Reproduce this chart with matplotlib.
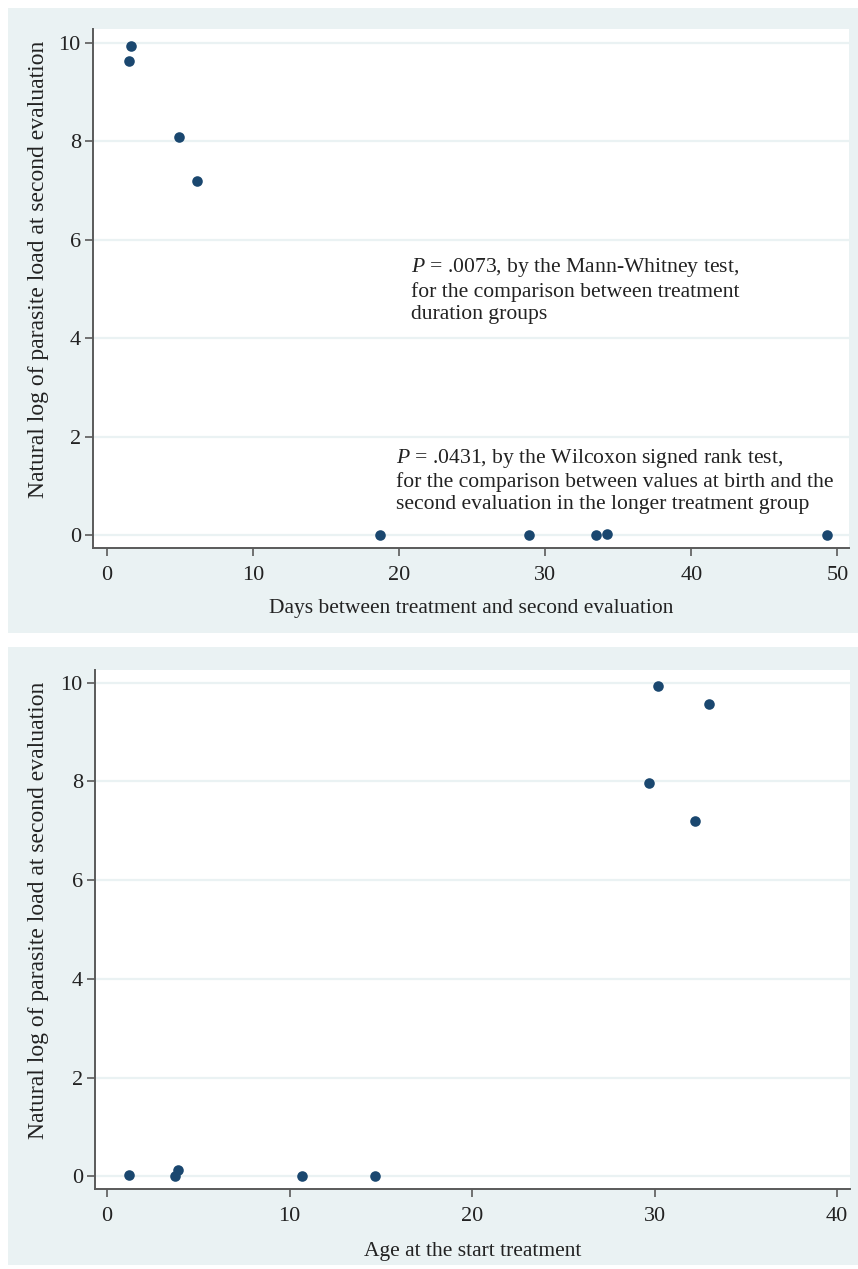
import matplotlib.pyplot as plt
from matplotlib.patches import Rectangle

# data
days = [1.5, 1.65, 4.9, 6.15, 18.7, 28.9, 33.5, 34.2, 49.3]
load_days = [9.63, 9.93, 8.08, 7.19, 0.0, 0.0, 0.0, 0.02, 0.0]

age = [30.2, 33.0, 29.7, 32.2, 1.2, 3.7, 3.9, 10.7, 14.7]
load_age = [9.93, 9.57, 7.97, 7.19, 0.02, 0.0, 0.12, 0.0, 0.0]

yticks = [0, 2, 4, 6, 8, 10]
xticks_top = [0, 10, 20, 30, 40, 50]
xticks_bot = [0, 10, 20, 30, 40]

ylab = 'Natural log of parasite load at second evaluation'
note1 = ('$P$ = .0073, by the Mann-Whitney test,\n'
         'for the comparison between treatment\n'
         'duration groups')
note2 = ('$P$ = .0431, by the Wilcoxon signed rank test,\n'
         'for the comparison between values at birth and the\n'
         'second evaluation in the longer treatment group')

plt.rcParams['font.family'] = ['Liberation Serif', 'DejaVu Serif']
plt.rcParams['mathtext.fontset'] = 'custom'
plt.rcParams['mathtext.it'] = 'Liberation Serif:italic'

W, H = 858, 1269
panel = '#eaf2f3'
navy = '#1a476f'
axcol = '#5a5a5a'
txt = '#222222'

fig = plt.figure(figsize=(W / 100, H / 100), dpi=100)
fig.patch.set_facecolor('white')


def px(l, t, r, b):
    return [l / W, 1 - b / H, (r - l) / W, (b - t) / H]


# light blue outer panels behind each graph
for (t, b) in [(8, 633), (647, 1265)]:
    fig.add_artist(Rectangle((8 / W, 1 - b / H), (W - 8) / W, (b - t) / H,
                             transform=fig.transFigure, facecolor=panel,
                             edgecolor='none', zorder=-5))


def style(ax, xticks, lx):
    ax.set_facecolor('white')
    for s in ['top', 'right']:
        ax.spines[s].set_visible(False)
    for s in ['left', 'bottom']:
        ax.spines[s].set_color(axcol)
        ax.spines[s].set_linewidth(1.4)
    ax.set_yticks(yticks)
    ax.set_xticks(xticks)
    ax.tick_params(length=5.8, width=1.2, color=axcol, labelsize=16,
                   labelcolor=txt)
    ax.tick_params(axis='y', pad=3)
    ax.tick_params(axis='x', pad=7)
    ax.grid(axis='y', color=panel, linewidth=1.6)
    ax.set_axisbelow(True)
    ax.set_ylabel(ylab, fontsize=17, color=txt)
    ax.yaxis.set_label_coords(lx, 0.537)


ax1 = fig.add_axes(px(93, 29, 849, 548))
ax1.scatter(days, load_days, s=58, color=navy, zorder=3, linewidths=0)
ax1.set_xlim(-0.96, 50.8)
ax1.set_ylim(-0.26, 10.28)
style(ax1, xticks_top, -0.058)
ax1.set_xlabel('Days between treatment and second evaluation',
               fontsize=15.5, color=txt, labelpad=10)
ax1.text(20.8, 5.67, note1, fontsize=15.6, color=txt, va='top',
         linespacing=1.2)
ax1.text(19.8, 1.8, note2, fontsize=15.6, color=txt, va='top',
         linespacing=1.2)

ax2 = fig.add_axes(px(95, 670, 850, 1189))
ax2.scatter(age, load_age, s=58, color=navy, zorder=3, linewidths=0)
ax2.set_xlim(-0.66, 40.7)
ax2.set_ylim(-0.26, 10.26)
style(ax2, xticks_bot, -0.061)
ax2.set_xlabel('Age at the start treatment', fontsize=15.5, color=txt,
               labelpad=12)

fig.savefig('out.png', dpi=100)
